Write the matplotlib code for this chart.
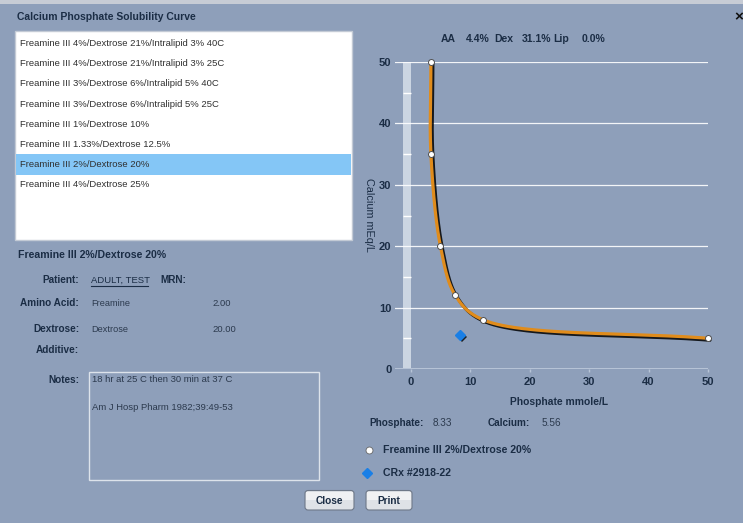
import numpy as np
import matplotlib
matplotlib.use("Agg")
import matplotlib.pyplot as plt
import matplotlib.patheffects as pe
from matplotlib.patches import Rectangle, FancyBboxPatch

plt.rcParams['font.family'] = ['Liberation Sans', 'DejaVu Sans']

# solubility curve points (phosphate mmol/L, calcium mEq/L)
phos = [3.4, 3.4, 5.0, 7.5, 12.2, 50.0]
calc = [50, 35, 20, 12, 8, 5]
# the CRx order
rx_phos = [8.33]
rx_calc = [5.56]

formulas = ["Freamine III 4%/Dextrose 21%/Intralipid 3% 40C",
            "Freamine III 4%/Dextrose 21%/Intralipid 3% 25C",
            "Freamine III 3%/Dextrose 6%/Intralipid 5% 40C",
            "Freamine III 3%/Dextrose 6%/Intralipid 5% 25C",
            "Freamine III 1%/Dextrose 10%",
            "Freamine III 1.33%/Dextrose 12.5%",
            "Freamine III 2%/Dextrose 20%",
            "Freamine III 4%/Dextrose 25%"]
selected = 6
xticks = [0, 10, 20, 30, 40, 50]
yticks = [0, 10, 20, 30, 40, 50]

BG = '#8e9fba'
NAVY = '#1b2d45'
VAL = '#2c3a4e'


def catmull_rom(xs, ys, n=60, alpha=0.5):
    pts = np.column_stack([xs, ys]).astype(float)
    pts = np.vstack([2 * pts[0] - pts[1], pts, 2 * pts[-1] - pts[-2]])
    out = []
    for i in range(len(pts) - 3):
        p0, p1, p2, p3 = pts[i:i + 4]
        t0 = 0.0
        t1 = t0 + np.linalg.norm(p1 - p0) ** alpha
        t2 = t1 + np.linalg.norm(p2 - p1) ** alpha
        t3 = t2 + np.linalg.norm(p3 - p2) ** alpha
        t = np.linspace(t1, t2, n)[:, None]
        a1 = (t1 - t) / (t1 - t0) * p0 + (t - t0) / (t1 - t0) * p1
        a2 = (t2 - t) / (t2 - t1) * p1 + (t - t1) / (t2 - t1) * p2
        a3 = (t3 - t) / (t3 - t2) * p2 + (t - t2) / (t3 - t2) * p3
        b1 = (t2 - t) / (t2 - t0) * a1 + (t - t0) / (t2 - t0) * a2
        b2 = (t3 - t) / (t3 - t1) * a2 + (t - t1) / (t3 - t1) * a3
        out.append((t2 - t) / (t2 - t1) * b1 + (t - t1) / (t2 - t1) * b2)
    c = np.vstack(out)
    return c[:, 0], c[:, 1]


W, H = 743, 523
fig = plt.figure(figsize=(W / 100, H / 100), dpi=100, facecolor=BG)

# ---- dialog chrome, in pixel coords ----
ui = fig.add_axes([0, 0, 1, 1], zorder=0)
ui.set_xlim(0, W)
ui.set_ylim(H, 0)
ui.axis('off')
ui.add_patch(Rectangle((0, 0), W, 4, color='#c7ccd5', lw=0))

ui.text(17, 17, "Calcium Phosphate Solubility Curve", fontsize=7.5, fontweight='bold',
        color=NAVY, va='center')
ui.text(739, 17, "\u00d7", fontsize=11, fontweight='bold', color='#111111', va='center', ha='center')

# list box
ui.add_patch(Rectangle((15, 31), 337, 209, facecolor='white', edgecolor='#c3cad5', lw=1))
ui.add_patch(Rectangle((16, 154), 335, 21, facecolor='#84c6f6', lw=0))
for i, name in enumerate(formulas):
    ui.text(20, 43.5 + 20.2 * i, name, fontsize=6.8, color='#303030', va='center')

ui.text(18, 255, formulas[selected], fontsize=7.6, fontweight='bold', color=NAVY, va='center')

labels = ["Patient:", "Amino Acid:", "Dextrose:", "Additive:", "Notes:"]
label_y = [280, 303, 329, 350, 380]
for lab, y in zip(labels, label_y):
    ui.text(79, y, lab, fontsize=7.2, fontweight='bold', color=NAVY, va='center', ha='right')

ui.text(91, 280, "ADULT, TEST", fontsize=6.8, color=NAVY, va='center')
ui.plot([91, 148], [285.5, 285.5], color=NAVY, lw=0.8)
ui.text(160, 280, "MRN:", fontsize=7.2, fontweight='bold', color=NAVY, va='center')
ui.text(91, 303, "Freamine", fontsize=6.6, color=VAL, va='center')
ui.text(212, 303, "2.00", fontsize=6.8, color=VAL, va='center')
ui.text(91, 329, "Dextrose", fontsize=6.6, color=VAL, va='center')
ui.text(212, 329, "20.00", fontsize=6.8, color=VAL, va='center')

ui.add_patch(Rectangle((89, 372), 230, 108, facecolor='none', edgecolor='#dde3eb', lw=1))
ui.text(92, 380, "18 hr at 25 C then 30 min at 37 C", fontsize=6.8, color=VAL, va='center')
ui.text(92, 407, "Am J Hosp Pharm 1982;39:49-53", fontsize=6.8, color=VAL, va='center')

for (x0, x1, lab) in [(305, 354, "Close"), (366, 412, "Print")]:
    ui.add_patch(FancyBboxPatch((x0, 490.5), x1 - x0, 19.5, boxstyle="round,pad=0,rounding_size=3",
                                facecolor='#dfe2e7', edgecolor='#6e7888', lw=0.8))
    ui.add_patch(Rectangle((x0 + 1, 491.5), x1 - x0 - 2, 8, facecolor='#f0f1f3', lw=0))
    ui.text((x0 + x1) / 2, 500.5, lab, fontsize=7.3, fontweight='bold', color=NAVY,
            va='center', ha='center')

# chart header
for x, s in [(441, "AA"), (466, "4.4%"), (494, "Dex"), (522, "31.1%"), (553, "Lip"), (582, "0.0%")]:
    ui.text(x, 39, s, fontsize=7.5, fontweight='bold', color=NAVY, va='center')

# values + legend under the chart
ui.text(369, 423, "Phosphate:", fontsize=7.2, fontweight='bold', color=NAVY, va='center')
ui.text(433, 423, "%.2f" % rx_phos[0], fontsize=7.2, color=VAL, va='center')
ui.text(488, 423, "Calcium:", fontsize=7.2, fontweight='bold', color=NAVY, va='center')
ui.text(542, 423, "%.2f" % rx_calc[0], fontsize=7.2, color=VAL, va='center')

ui.plot([369], [450], marker='o', ms=5, mfc='white', mec='#666666', mew=0.6, ls='none')
ui.text(383, 450, formulas[selected], fontsize=7.6, fontweight='bold', color=NAVY, va='center')
ui.plot([367], [473], marker='D', ms=5, color='#1a7fe6', ls='none')
ui.text(383, 473, "CRx #2918-22", fontsize=7.6, fontweight='bold', color=NAVY, va='center')

# ---- chart ----
L, R, T, B = 395, 708, 62, 369
ax = fig.add_axes([L / W, (H - B) / H, (R - L) / W, (B - T) / H], zorder=1)
ax.patch.set_alpha(0)
x0px = 410.7
ax.set_xlim(-(x0px - L) / ((R - x0px) / 50), 50)
ax.set_ylim(0, 50)
for s in ax.spines.values():
    s.set_visible(False)

ax.axvspan(-1.25, 0, color='#cbd5e2', lw=0, zorder=0)
ax.hlines(np.arange(5, 50, 10), -1.25, 0, color='white', lw=1, zorder=1)
ax.set_yticks(yticks)
ax.set_xticks(xticks)
ax.grid(axis='y', color='white', lw=0.9, alpha=0.9)
ax.axhline(0, color='#b7c4d7', lw=1.4, zorder=2)
ax.tick_params(axis='y', length=0, pad=2.5, labelsize=8, labelcolor=NAVY)
ax.tick_params(axis='x', length=2.5, width=1, color='#b7c4d7', pad=3.5, labelsize=8, labelcolor=NAVY)
for lab in ax.get_xticklabels() + ax.get_yticklabels():
    lab.set_fontweight('bold')

ax.set_ylabel("Calcium mEq/L", rotation=270, va='center', ha='center', fontsize=7.8, color=NAVY)
ax.yaxis.set_label_coords((369 - L) / (R - L), (B - 215) / (B - T))
ax.set_xlabel("Phosphate mmole/L", fontsize=7.4, fontweight='bold', color=NAVY, va='center')
ax.xaxis.set_label_coords((559 - L) / (R - L), (B - 402) / (B - T))

cx, cy = catmull_rom(phos, calc)
ax.plot(cx, cy, color='#e08c1c', lw=2.3, solid_capstyle='round', clip_on=False, zorder=3,
        path_effects=[pe.SimpleLineShadow(offset=(1.4, -1.4), shadow_color='black', alpha=0.85),
                      pe.Normal()])
ax.plot(phos, calc, ls='none', marker='o', ms=4.3, mfc='white', mec='#505050', mew=0.7,
        clip_on=False, zorder=4)
ax.plot(rx_phos, rx_calc, ls='none', marker='D', ms=5, color='#1a7fe6', zorder=4,
        path_effects=[pe.SimplePatchShadow(offset=(1.3, -1.3), shadow_rgbFace='black', alpha=0.8),
                      pe.Normal()])

fig.savefig("out.png", dpi=100, facecolor=BG)
